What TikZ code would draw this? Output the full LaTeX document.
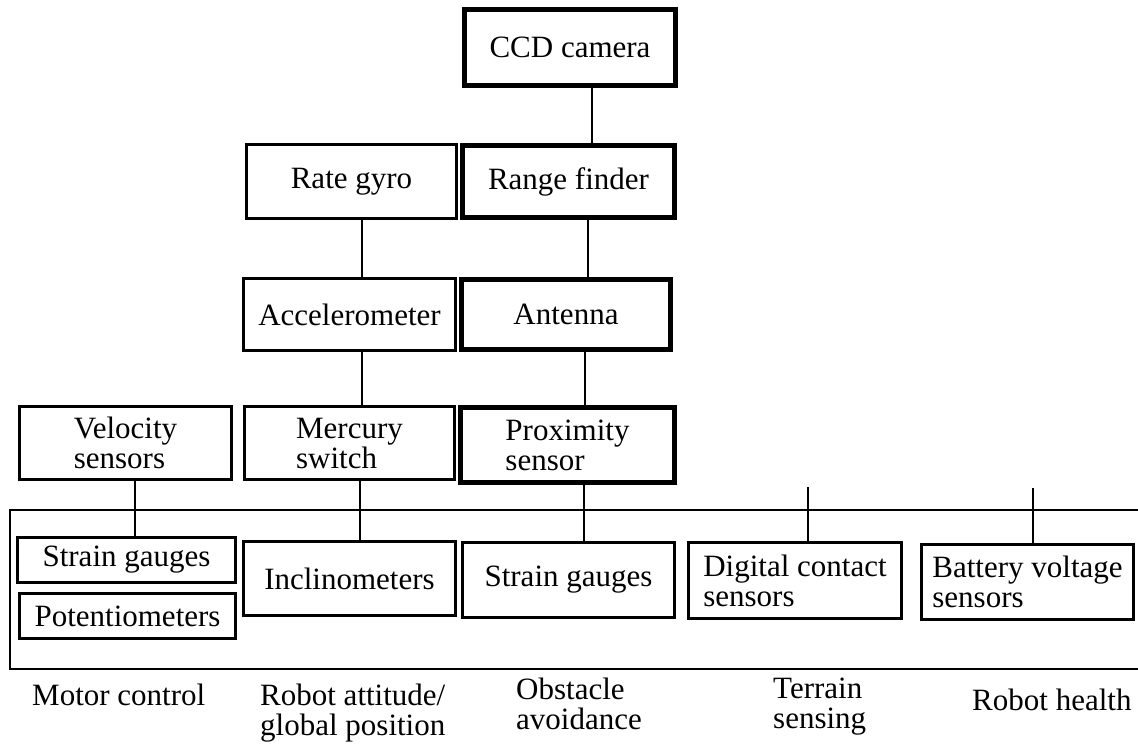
\documentclass[tikz,border=0pt]{standalone}
\usepackage{fontspec}
\setmainfont{Liberation Serif}
\begin{document}
\begin{tikzpicture}[x=1pt,y=-1pt,
  txt/.style={font=\fontsize{31}{30}\selectfont},
  box/.style={draw, line width=2.6pt, inner sep=0pt, align=center, txt},
  lbox/.style={box, align=left},
  heavybox/.style={box, line width=5pt},
  lheavybox/.style={heavybox, align=left},
  wire/.style={line width=2.6pt},
  caption/.style={anchor=north west, inner sep=0pt, align=left, txt}]
\useasboundingbox (0,0) rectangle (1138,744);

% sensor boxes
\node[heavybox, minimum width=211, minimum height=76] (ccd) at (570,47.5) {CCD camera};
\node[box, minimum width=210, minimum height=74] (gyro) at (351.5,181.5) {Rate gyro};
\node[heavybox, minimum width=212, minimum height=72] (range) at (568.5,181.5) {Range finder};
\node[box, minimum width=212, minimum height=72] (accel) at (349.5,314.5) {Accelerometer};
\node[heavybox, minimum width=209, minimum height=70] (antenna) at (566,314.5) {Antenna};
\node[lbox, minimum width=212, minimum height=73] (velocity) at (125.5,443) {Velocity\\sensors};
\node[lbox, minimum width=210, minimum height=73] (mercury) at (349.5,443) {Mercury\\switch};
\node[lheavybox, minimum width=214, minimum height=75] (proximity) at (567.5,445) {Proximity\\sensor};

% sensors inside the frame
\node[box, minimum width=218, minimum height=45] (strainA) at (126.5,560) {Strain gauges};
\node[box, minimum width=216, minimum height=45] (poten) at (127.5,616) {Potentiometers};
\node[box, minimum width=212, minimum height=74] (incl) at (349.5,578.5) {Inclinometers};
\node[box, minimum width=212, minimum height=75] (strainB) at (568.5,580) {Strain gauges};
\node[lbox, minimum width=213, minimum height=76] (digital) at (795,580.5) {Digital contact\\sensors};
\node[lbox, minimum width=212, minimum height=75] (battery) at (1027.5,582) {Battery voltage\\sensors};

% frame open to the right
\coordinate (frameNE) at (1140,510);
\coordinate (frameNW) at (10,510);
\coordinate (frameSW) at (10,669);
\coordinate (frameSE) at (1140,669);
\draw[wire] (frameNE) -- (frameNW) -- (frameSW) -- (frameSE);

% connector columns
\coordinate (a1) at (592,0);
\coordinate (a2) at (362,0);
\coordinate (a3) at (588,0);
\coordinate (a4) at (362,0);
\coordinate (a5) at (585,0);
\coordinate (a6) at (135,0);
\coordinate (a7) at (360,0);
\coordinate (a8) at (584,0);
\draw[wire] (ccd.south -| a1) -- (range.north -| a1);
\draw[wire] (gyro.south -| a2) -- (accel.north -| a2);
\draw[wire] (range.south -| a3) -- (antenna.north -| a3);
\draw[wire] (accel.south -| a4) -- (mercury.north -| a4);
\draw[wire] (antenna.south -| a5) -- (proximity.north -| a5);
\draw[wire] (velocity.south -| a6) -- (strainA.north -| a6);
\draw[wire] (mercury.south -| a7) -- (incl.north -| a7);
\draw[wire] (proximity.south -| a8) -- (strainB.north -| a8);

% free ticks above the frame line
\coordinate (t1) at (808,487);
\coordinate (t2) at (1033,488);
\draw[wire] (t1) -- (digital.north -| t1);
\draw[wire] (t2) -- (battery.north -| t2);

% column captions
\node[caption] (capMotor) at (32,684) {Motor control};
\node[caption] (capAttitude) at (260,684) {Robot attitude/\\global position};
\node[caption] (capObstacle) at (516,678) {Obstacle\\avoidance};
\node[caption] (capTerrain) at (773,678) {Terrain\\sensing};
\node[caption] (capHealth) at (972,689) {Robot health};
\end{tikzpicture}
\end{document}
